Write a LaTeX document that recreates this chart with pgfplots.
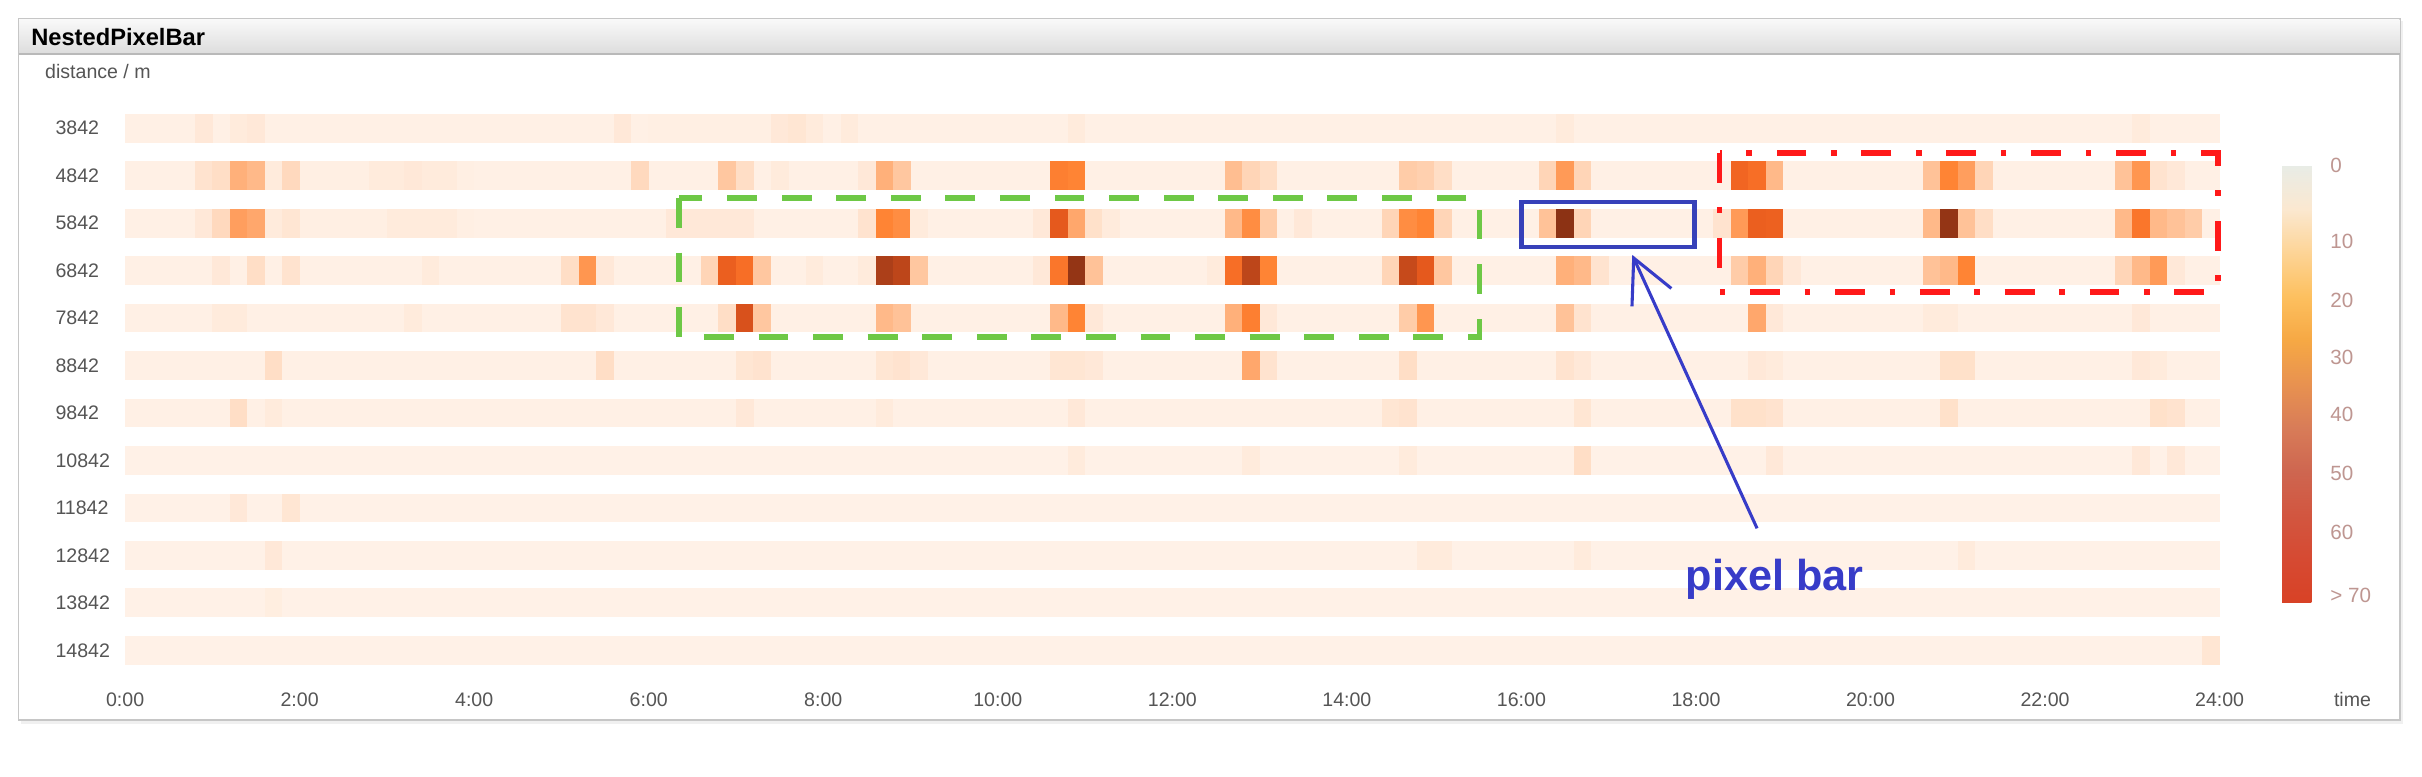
\documentclass[border=0pt]{standalone}
\usepackage{fontspec}
\setmainfont{Liberation Sans}
\usepackage{pgfplots}
\pgfplotsset{compat=1.18}
\usetikzlibrary{arrows.meta}
\definecolor{tickgray}{RGB}{85,85,85}
\definecolor{cbgray}{RGB}{190,150,145}
\definecolor{gbox}{RGB}{110,200,70}
\definecolor{rbox}{RGB}{255,25,25}
\definecolor{bbox}{RGB}{55,65,185}
\definecolor{ptxt}{RGB}{55,60,200}
\pgfdeclareplotmark{cell}{\pgfpathrectangle{\pgfqpoint{-4.3pt}{-7pt}}{\pgfqpoint{8.6pt}{14pt}}\pgfusepathqfill}
\pgfdeclareplotmark{blk}{\pgfpathrectangle{\pgfqpoint{-42.5pt}{-7pt}}{\pgfqpoint{85pt}{14pt}}\pgfusepathqfill}
\begin{document}
\begin{tikzpicture}[x=0.75pt,y=-0.75pt]
\useasboundingbox (0,0) rectangle (1568,503);
\fill[white] (0,0) rectangle (1568,503);
\fill[gray!12] (13.5,13.5) rectangle (1556,468.5);
\draw[gray!45, line width=0.9pt, fill=white] (12,12) rectangle (1554,466);
\shade[top color=gray!5, bottom color=gray!27] (12.6,12.6) rectangle (1553.4,35);
\draw[gray!55, line width=0.6pt] (12,35) -- (1554,35);
\node[anchor=west, font=\fontsize{11.5}{13}\selectfont\bfseries, inner sep=0pt] at (20,24) {NestedPixelBar};
\node[anchor=west, font=\fontsize{9.5}{11}\selectfont, text=tickgray, inner sep=0pt] at (29,46) {distance / m};

\begin{axis}[
  at={(60.75pt,-50.7pt)}, anchor=north west,
  scale only axis, width=1017pt, height=276.6pt,
  xmin=0, xmax=24, ymin=-0.5, ymax=11.5, y dir=reverse,
  xtick={0,2,...,24},
  xticklabels={0:00,2:00,4:00,6:00,8:00,10:00,12:00,14:00,16:00,18:00,20:00,22:00,24:00},
  ytick={0,...,11},
  yticklabels={3842,4842,5842,6842,7842,8842,9842,10842,11842,12842,13842,14842},
  axis line style={draw=none}, major tick length=0pt,
  xmajorgrids, major grid style={white, line width=3.4pt},
  axis on top, clip=false,
  tick label style={font=\fontsize{9.5}{11}\selectfont, text=tickgray, inner sep=0pt},
  xticklabel style={anchor=base, yshift=-15.8pt},
  yticklabel style={anchor=west, xshift=-34pt},
  colormap={cells}{rgb255=(255,248,242) rgb255=(255,222,198) rgb255=(255,176,122) rgb255=(255,132,52) rgb255=(245,105,35) rgb255=(225,85,28) rgb255=(180,66,26) rgb255=(140,50,20)},
  point meta min=0, point meta max=70,
]
% background of each 2-hour block
\addplot[scatter, only marks, mark=blk, point meta=explicit] coordinates {
(1,0)[3] (3,0)[3] (5,0)[3] (7,0)[3.5] (9,0)[3] (11,0)[3] (13,0)[3] (15,0)[3] (17,0)[3] (19,0)[3] (21,0)[3] (23,0)[3]
(1,1)[3] (3,1)[3.5] (5,1)[3] (7,1)[3] (9,1)[3] (11,1)[3] (13,1)[3] (15,1)[3] (17,1)[3] (19,1)[3] (21,1)[3] (23,1)[3]
(1,2)[3] (3,2)[3.5] (5,2)[3] (7,2)[3] (9,2)[3] (11,2)[3] (13,2)[3] (15,2)[3] (17,2)[3] (19,2)[3] (21,2)[3] (23,2)[3]
(1,3)[3] (3,3)[3] (5,3)[3] (7,3)[3] (9,3)[3] (11,3)[3] (13,3)[3] (15,3)[3] (17,3)[3] (19,3)[3] (21,3)[3] (23,3)[3]
(1,4)[3] (3,4)[3] (5,4)[3] (7,4)[3] (9,4)[3] (11,4)[3] (13,4)[3] (15,4)[3] (17,4)[3] (19,4)[3] (21,4)[3] (23,4)[3]
(1,5)[3] (3,5)[3] (5,5)[3] (7,5)[3] (9,5)[3] (11,5)[3] (13,5)[3] (15,5)[3] (17,5)[3] (19,5)[3] (21,5)[3] (23,5)[3]
(1,6)[3] (3,6)[3] (5,6)[3] (7,6)[3] (9,6)[3] (11,6)[3] (13,6)[3] (15,6)[3] (17,6)[3] (19,6)[3] (21,6)[3] (23,6)[3]
(1,7)[2.5] (3,7)[2.5] (5,7)[2.5] (7,7)[2.5] (9,7)[2.5] (11,7)[2.5] (13,7)[2.5] (15,7)[2.5] (17,7)[2.5] (19,7)[2.5] (21,7)[2.5] (23,7)[2.5]
(1,8)[2.5] (3,8)[2.5] (5,8)[2.5] (7,8)[2.5] (9,8)[2.5] (11,8)[2.5] (13,8)[2.5] (15,8)[2.5] (17,8)[2.5] (19,8)[2.5] (21,8)[2.5] (23,8)[2.5]
(1,9)[2.5] (3,9)[2.5] (5,9)[2.5] (7,9)[2.5] (9,9)[2.5] (11,9)[2.5] (13,9)[2.5] (15,9)[2.5] (17,9)[2.5] (19,9)[2.5] (21,9)[2.5] (23,9)[2.5]
(1,10)[2.5] (3,10)[2.5] (5,10)[2.5] (7,10)[2.5] (9,10)[2.5] (11,10)[2.5] (13,10)[2.5] (15,10)[2.5] (17,10)[2.5] (19,10)[2.5] (21,10)[2.5] (23,10)[2.5]
(1,11)[2.5] (3,11)[2.5] (5,11)[2.5] (7,11)[2.5] (9,11)[2.5] (11,11)[2.5] (13,11)[2.5] (15,11)[2.5] (17,11)[2.5] (19,11)[2.5] (21,11)[2.5] (23,11)[2.5]
};
% 12-minute pixel cells
\addplot[scatter, only marks, mark=cell, point meta=explicit] coordinates {
(0.9,0)[6] (1.3,0)[5] (1.5,0)[6] (5.7,0)[6] (7.5,0)[6] (7.7,0)[7] (7.9,0)[5] (8.3,0)[5] (10.9,0)[5] (16.5,0)[5] (23.1,0)[5]
(0.9,1)[8] (1.1,1)[10] (1.3,1)[20] (1.5,1)[18] (1.7,1)[5] (1.9,1)[11] (2.9,1)[5] (3.1,1)[5] (3.3,1)[6] (3.5,1)[5] (3.7,1)[5]
(5.9,1)[11] (6.9,1)[15] (7.1,1)[10] (7.5,1)[5] (8.5,1)[6] (8.7,1)[20] (8.9,1)[15] (10.7,1)[32] (10.9,1)[30]
(12.7,1)[17] (12.9,1)[12] (13.1,1)[10] (14.7,1)[14] (14.9,1)[13] (15.1,1)[10] (16.3,1)[12] (16.5,1)[25] (16.7,1)[12]
(18.5,1)[42] (18.7,1)[38] (18.9,1)[18] (20.7,1)[16] (20.9,1)[30] (21.1,1)[24] (21.3,1)[12] (22.9,1)[16] (23.1,1)[26] (23.3,1)[8] (23.5,1)[6]
(0.9,2)[6] (1.1,2)[11] (1.3,2)[24] (1.5,2)[22] (1.7,2)[5] (1.9,2)[7] (3.1,2)[5] (3.3,2)[5] (3.5,2)[5] (3.7,2)[5]
(6.3,2)[6] (6.5,2)[6] (6.7,2)[6] (6.9,2)[6] (7.1,2)[6] (8.5,2)[8] (8.7,2)[30] (8.9,2)[28] (9.1,2)[5]
(10.5,2)[6] (10.7,2)[48] (10.9,2)[22] (11.1,2)[9] (11.3,2)[5] (12.7,2)[18] (12.9,2)[28] (13.1,2)[14] (13.5,2)[6]
(14.5,2)[12] (14.7,2)[28] (14.9,2)[30] (15.1,2)[12] (16.3,2)[16] (16.5,2)[70] (16.7,2)[12]
(18.3,2)[8] (18.5,2)[25] (18.7,2)[45] (18.9,2)[44] (20.7,2)[18] (20.9,2)[68] (21.1,2)[16] (21.3,2)[10]
(22.9,2)[18] (23.1,2)[35] (23.3,2)[18] (23.5,2)[16] (23.7,2)[14]
(1.1,3)[6] (1.5,3)[10] (1.9,3)[8] (3.5,3)[5] (5.1,3)[10] (5.3,3)[26] (5.5,3)[6]
(6.7,3)[12] (6.9,3)[45] (7.1,3)[38] (7.3,3)[15] (7.9,3)[5] (8.5,3)[5] (8.7,3)[62] (8.9,3)[58] (9.1,3)[15]
(10.5,3)[6] (10.7,3)[35] (10.9,3)[68] (11.1,3)[16] (12.5,3)[5] (12.7,3)[38] (12.9,3)[58] (13.1,3)[30]
(14.5,3)[12] (14.7,3)[56] (14.9,3)[48] (15.1,3)[15] (16.5,3)[20] (16.7,3)[18] (16.9,3)[8]
(18.5,3)[14] (18.7,3)[20] (18.9,3)[12] (19.1,3)[6] (20.7,3)[16] (20.9,3)[18] (21.1,3)[30]
(22.9,3)[12] (23.1,3)[18] (23.3,3)[25] (23.5,3)[6]
(1.1,4)[5] (1.3,4)[5] (3.3,4)[5] (5.1,4)[8] (5.3,4)[8] (5.5,4)[6] (6.9,4)[10] (7.1,4)[52] (7.3,4)[15]
(8.7,4)[18] (8.9,4)[16] (10.7,4)[18] (10.9,4)[30] (11.1,4)[6] (12.7,4)[20] (12.9,4)[32] (13.1,4)[6]
(14.7,4)[14] (14.9,4)[26] (16.5,4)[16] (16.7,4)[8] (18.7,4)[22] (18.9,4)[6] (20.7,4)[5] (20.9,4)[5] (23.1,4)[6]
(1.7,5)[10] (5.5,5)[10] (7.1,5)[7] (7.3,5)[8] (8.7,5)[7] (8.9,5)[8] (9.1,5)[6] (10.7,5)[7] (10.9,5)[7] (11.1,5)[6]
(12.9,5)[22] (13.1,5)[8] (14.7,5)[10] (16.5,5)[8] (16.7,5)[6] (18.7,5)[6] (18.9,5)[5] (20.9,5)[9] (21.1,5)[9] (23.1,5)[6] (23.3,5)[5]
(1.3,6)[10] (1.7,6)[5] (7.1,6)[6] (8.7,6)[5] (10.9,6)[6] (14.5,6)[7] (14.7,6)[8] (16.7,6)[7]
(18.5,6)[9] (18.7,6)[9] (18.9,6)[8] (20.9,6)[9] (23.3,6)[9] (23.5,6)[8]
(10.9,7)[5] (12.9,7)[5] (14.7,7)[5] (16.7,7)[10] (18.9,7)[6] (23.1,7)[6] (23.5,7)[6]
(1.3,8)[6] (1.9,8)[7]
(1.7,9)[6] (14.9,9)[5] (15.1,9)[5] (16.7,9)[5] (21.1,9)[5]
(1.7,10)[4]
(23.9,11)[7]
};
\coordinate (gA) at (axis cs:6.35,1.47);
\coordinate (gB) at (axis cs:15.52,4.4);
\coordinate (bA) at (axis cs:16.0,1.56);
\coordinate (bB) at (axis cs:17.98,2.5);
\coordinate (rA) at (axis cs:18.27,0.52);
\coordinate (rB) at (axis cs:23.98,3.45);
\coordinate (arS) at (axis cs:18.7,8.43);
\coordinate (arT) at (axis cs:17.27,2.67);
\coordinate (ptx) at (axis cs:18.9,9.5);
\end{axis}

\begin{axis}[
  at={(1099.5pt,-80.25pt)}, anchor=north west,
  scale only axis, width=0pt, height=0pt, hide axis,
  xmin=0, xmax=1, ymin=0, ymax=1,
  colormap={barmap}{rgb255=(232,236,230) rgb255=(251,232,208) rgb255=(253,212,150) rgb255=(253,192,95) rgb255=(246,168,68) rgb255=(232,146,80) rgb255=(216,124,88) rgb255=(206,102,80) rgb255=(210,86,64) rgb255=(214,74,50) rgb255=(216,66,38)},
  point meta min=0, point meta max=1,
  colorbar,
  colorbar style={
    at={(parent axis.north east)}, anchor=north west, xshift=0pt,
    scale only axis, width=18.75pt, height=212.25pt,
    y dir=reverse,
    ytick={0,0.175,0.31,0.44,0.57,0.705,0.84,0.985},
    yticklabels={0,10,20,30,40,50,60,{> 70}},
    axis line style={draw=none}, major tick length=0pt,
    yticklabel style={font=\fontsize{10}{12}\selectfont, text=cbgray, inner sep=0pt, anchor=west, xshift=4.5pt},
  },
]
\addplot[draw=none] coordinates {(0,0)};
\end{axis}

\node[font=\fontsize{9.5}{11}\selectfont, text=tickgray, inner sep=0pt] at (1523,453) {time};

\draw[gbox, line width=2.8pt, dash pattern=on 14.5pt off 12pt] (gA) rectangle (gB);
\draw[rbox, line width=2.6pt, dash pattern=on 14.5pt off 12pt on 2.7pt off 12pt] (rA) rectangle (rB);
\draw[bbox, line width=2.2pt] (bA) rectangle (bB);
\draw[ptxt, line width=1.5pt, -{Straight Barb[length=21pt,width=21pt,line width=1.5pt]}] (arS) -- (arT);
\node[text=ptxt, font=\fontsize{21}{24}\selectfont\bfseries] at (ptx) {pixel bar};
\end{tikzpicture}
\end{document}
